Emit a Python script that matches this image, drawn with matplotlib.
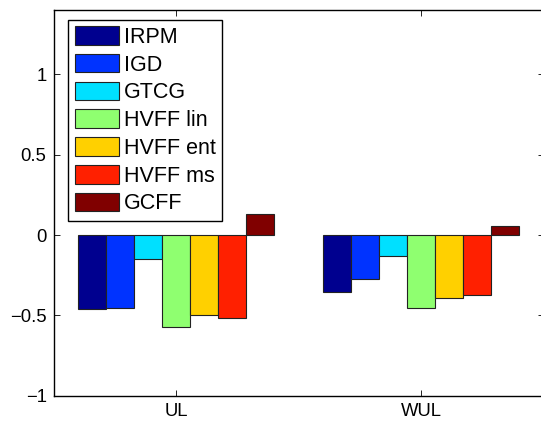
import numpy as np
import matplotlib
matplotlib.use('Agg')
import matplotlib.pyplot as plt

# donnees
groupes = ['UL', 'WUL']
methodes = ['IRPM', 'IGD', 'GTCG', 'HVFF lin', 'HVFF ent', 'HVFF ms', 'GCFF']
valeurs = {
    'IRPM':     [-0.46, -0.357],
    'IGD':      [-0.452, -0.274],
    'GTCG':     [-0.149, -0.128],
    'HVFF lin': [-0.572, -0.454],
    'HVFF ent': [-0.50, -0.394],
    'HVFF ms':  [-0.516, -0.373],
    'GCFF':     [0.134, 0.058],
}
couleurs = ['#00008F', '#0033FF', '#00E0FF', '#8FFF70', '#FFD000', '#FF2000', '#800000']

plt.rcParams['font.family'] = ['Liberation Sans', 'DejaVu Sans']

fig = plt.figure(figsize=(5.41, 4.21), dpi=100)
ax = fig.add_axes([0.099, 0.060, 0.906, 0.916])

x = np.arange(1, len(groupes) + 1)
n = len(methodes)
w = 0.8 / n
for i, m in enumerate(methodes):
    dx = (i - (n - 1) / 2) * w
    ax.bar(x + dx, valeurs[m], width=w, color=couleurs[i], edgecolor='#222222',
           linewidth=0.8, label=m)

ax.set_xlim(0.5, 2.5)
ax.set_ylim(-1, 1.4)
ax.set_xticks(x)
ax.set_xticklabels(groupes)
ax.set_yticks([-1, -0.5, 0, 0.5, 1])
ax.set_yticklabels(['\u22121', '\u22120.5', '0', '0.5', '1'])
ax.tick_params(direction='in', length=4, width=0.6, labelsize=13.3,
               top=True, right=True, pad=5)
ax.spines['right'].set_visible(False)
for s in ['left', 'top', 'bottom']:
    ax.spines[s].set_linewidth(1.0)

leg = ax.legend(loc='upper left', bbox_to_anchor=(0.03, 0.975), borderaxespad=0,
                fontsize=15.5, handlelength=2.09, handleheight=0.96,
                labelspacing=0.28, handletextpad=0.2, borderpad=0.29,
                fancybox=False, framealpha=1, edgecolor='black')
leg.get_frame().set_linewidth(1.0)

fig.savefig('out.png', dpi=100)
